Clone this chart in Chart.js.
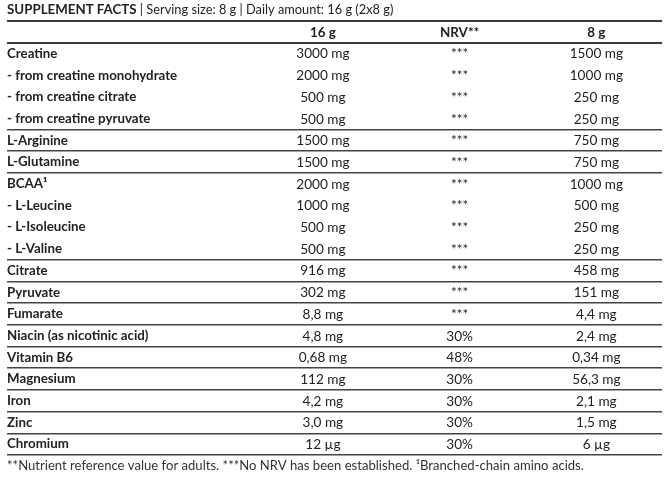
<!DOCTYPE html>
<html>
<head>
<meta charset="utf-8">
<title>Supplement facts</title>
<script src="https://cdn.jsdelivr.net/npm/chart.js@4.4.1/dist/chart.umd.min.js"></script>
<style>
  html, body { margin: 0; padding: 0; background: #fff; }
  #wrap { position: relative; width: 670px; height: 480px; }
</style>
</head>
<body>
<div id="wrap"><canvas id="factsChart"></canvas></div>
<script>
// table content
const rowLabels = [
    'Creatine', '- from creatine monohydrate', '- from creatine citrate', '- from creatine pyruvate',
    'L-Arginine', 'L-Glutamine', 'BCAA\u00b9', '- L-Leucine', '- L-Isoleucine', '- L-Valine',
    'Citrate', 'Pyruvate', 'Fumarate', 'Niacin (as nicotinic acid)', 'Vitamin B6',
    'Magnesium', 'Iron', 'Zinc', 'Chromium'
];
const amount16g = [
    '3000 mg', '2000 mg', '500 mg', '500 mg', '1500 mg', '1500 mg', '2000 mg', '1000 mg', '500 mg', '500 mg',
    '916 mg', '302 mg', '8,8 mg', '4,8 mg', '0,68 mg', '112 mg', '4,2 mg', '3,0 mg', '12 \u00b5g'
];
const nrvValues = [
    '***', '***', '***', '***', '***', '***', '***', '***', '***', '***',
    '***', '***', '***', '30%', '48%', '30%', '30%', '30%', '30%'
];
const amount8g = [
    '1500 mg', '1000 mg', '250 mg', '250 mg', '750 mg', '750 mg', '1000 mg', '500 mg', '250 mg', '250 mg',
    '458 mg', '151 mg', '4,4 mg', '2,4 mg', '0,34 mg', '56,3 mg', '2,1 mg', '1,5 mg', '6 \u00b5g'
];
const columnHeads = ['16 g', 'NRV**', '8 g'];
const titleBold = 'SUPPLEMENT FACTS';
const titleParts = ['Serving size: 8 g', 'Daily amount: 16 g (2x8 g)'];
const footnote = '**Nutrient reference value for adults. ***No NRV has been established. \u00b9Branched-chain amino acids.';

const yLabels = [''].concat(rowLabels);
const TEXT = '#222';
const FONT = 'Lato';

function columnData(col) {
    return rowLabels.map(label => ({ x: col, y: label }));
}

// separator under header rows and before every main (non "- ") row
function lineStyle(ctx) {
    const k = ctx.type === 'tick' ? ctx.index : yLabels.length;
    if (k <= 1) return { color: '#3a3a3a', width: 2 };
    if (k < yLabels.length && yLabels[k].startsWith('- ')) return { color: 'rgba(0,0,0,0)', width: 0 };
    return { color: '#444', width: 1.5 };
}

const cellText = {
    id: 'cellText',
    afterDatasetsDraw(chart) {
        const ctx = chart.ctx;
        const yScale = chart.scales.y;
        ctx.save();
        ctx.fillStyle = TEXT;
        ctx.textAlign = 'center';
        ctx.textBaseline = 'middle';
        chart.data.datasets.forEach((ds, di) => {
            const meta = chart.getDatasetMeta(di);
            ctx.font = `bold 13.4px ${FONT}`;
            ctx.fillText(ds.label, meta.data[0].x, yScale.getPixelForValue(0) + 0.5);
            ctx.font = `13.6px ${FONT}`;
            meta.data.forEach((pt, i) => ctx.fillText(ds.cells[i], pt.x, pt.y + 0.5));
        });
        ctx.restore();
    }
};

const headerFooter = {
    id: 'headerFooter',
    afterDraw(chart) {
        const ctx = chart.ctx;
        const area = chart.chartArea;
        ctx.save();
        ctx.fillStyle = TEXT;
        ctx.textAlign = 'left';
        ctx.textBaseline = 'middle';
        let x = area.left;
        const yTitle = area.top - 11;
        ctx.font = `bold 13.3px ${FONT}`;
        ctx.fillText(titleBold, x, yTitle);
        x += ctx.measureText(titleBold).width;
        ctx.font = `12.8px ${FONT}`;
        titleParts.forEach(part => {
            const s = ' | ' + part;
            ctx.fillText(s, x, yTitle);
            x += ctx.measureText(s).width;
        });
        ctx.fillStyle = '#333';
        ctx.font = `13.1px ${FONT}`;
        ctx.fillText(footnote, area.left, area.bottom + 11);
        ctx.restore();
    }
};

function initChart() {
    Chart.defaults.font.family = FONT;
    const ctx = document.getElementById('factsChart').getContext('2d');
    new Chart(ctx, {
        type: 'scatter',
        data: {
            datasets: [
                { label: columnHeads[0], data: columnData(0), cells: amount16g },
                { label: columnHeads[1], data: columnData(1), cells: nrvValues },
                { label: columnHeads[2], data: columnData(2), cells: amount8g }
            ]
        },
        options: {
            responsive: true,
            maintainAspectRatio: false,
            animation: false,
            layout: { padding: { left: 7, right: 8, top: 21, bottom: 25 } },
            elements: { point: { radius: 0, hoverRadius: 0 } },
            plugins: {
                legend: { display: false },
                tooltip: { enabled: false }
            },
            scales: {
                x: { type: 'linear', display: false, min: -2.31, max: 2.48 },
                y: {
                    type: 'category',
                    labels: yLabels,
                    offset: true,
                    border: { display: false },
                    grid: {
                        offset: true,
                        drawTicks: false,
                        color: c => lineStyle(c).color,
                        lineWidth: c => lineStyle(c).width
                    },
                    ticks: {
                        mirror: true,
                        padding: 0,
                        autoSkip: false,
                        color: TEXT,
                        font: { size: 13.3, weight: 'bold' }
                    }
                }
            }
        },
        plugins: [cellText, headerFooter]
    });
}

document.addEventListener('DOMContentLoaded', () => {
    Promise.all([
        document.fonts.load(`bold 13px ${FONT}`),
        document.fonts.load(`13px ${FONT}`)
    ]).catch(() => {}).then(initChart);
});
</script>
</body>
</html>
